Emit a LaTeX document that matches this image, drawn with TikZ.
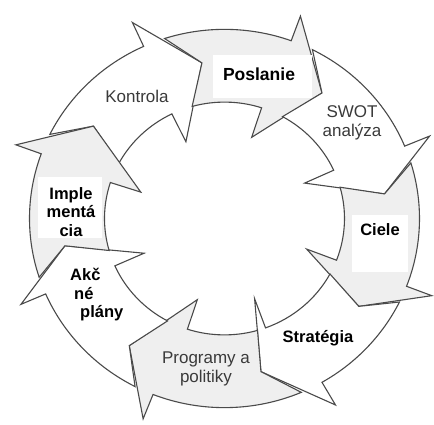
\documentclass[tikz,border=0pt]{standalone}
\usepackage{fontspec}
\setmainfont{Liberation Sans}
\usetikzlibrary{positioning}
\definecolor{ink}{HTML}{4A4A4A}
\definecolor{softgray}{HTML}{EFEFEF}
\definecolor{labelgray}{HTML}{3A3A3A}

\begin{document}
\begin{tikzpicture}[x=1pt,y=0.97pt,
  petal/.style={draw=ink,line width=1.1pt,line join=miter},
  plain/.style={font=\fontsize{17}{18.5}\selectfont,text=labelgray,
    align=center,inner sep=0pt},
  strong/.style={font=\bfseries\fontsize{16.5}{18.5}\selectfont,text=black,
    align=center,inner sep=0pt}
]
\useasboundingbox (-224.5pt,-206.5pt) rectangle (209.5pt,218.5pt);
% eight ring arrows, clockwise: outer barb / inner barb / tip, then the previous head
\foreach \bo/\bi/\t/\pbo/\pbi/\pt/\fc in {
  114.5/116/98/160/162/144/white,
  70/72/53/114.5/116/98/softgray,
  22.5/24.5/9/70/72/53/white,
  -21/-21/-34/22.5/24.5/9/softgray,
  -60/-70/-77/-21/-21/-34/white,
  -111.5/-108/-126/-60/-70/-77/softgray,
  -156.5/-156/-170/-111.5/-108/-126/white,
  -200/-198/-216/-156.5/-156/-170/softgray}{
  \pgfmathsetmacro\po{\pbo+0.4*(\pt-\pbo)}
  \pgfmathsetmacro\pin{\pbi+0.575*(\pt-\pbi)}
  \filldraw[petal,fill=\fc] (\po:195) arc[start angle=\po,end angle=\bo,radius=195]
    -- (\bo:222) -- (\t:162) -- (\bi:88) -- (\bi:120)
    arc[start angle=\bi,end angle=\pin,radius=120]
    -- (\pt:162) -- cycle;
}
% white patches behind the bold labels
\fill[white] (-11.5pt,163.5pt) rectangle (87.5pt,120.5pt);
\fill[white] (127.5pt,3.5pt) rectangle (183.5pt,-53.5pt);
\fill[white] (-186pt,41.5pt) rectangle (-122.5pt,-19.5pt);
\node[plain] (kontrola) at (-87.5pt,122.5pt) {Kontrola};
\node[strong,font=\bfseries\fontsize{17.5}{18.5}\selectfont] (poslanie) at (34.5pt,144.5pt) {Poslanie};
\node[plain] (swot) at (127.5pt,95.5pt) {SWOT\\analýza};
\node[strong] (ciele) at (155.5pt,-11.5pt) {Ciele};
\node[strong] (strategia) at (93.5pt,-119.5pt) {Stratégia};
\node[plain] (programy) at (-18.5pt,-150.5pt) {Programy a\\politiky};
\node[strong] (akcne) [anchor=west,align=left] at (-154.5pt,-76.5pt)
  {Akč\\\hspace*{4pt}né\\\hspace*{10pt}plány};
\node[strong] (impl) at (-153.5pt,6.5pt) {Imple\\mentá\\cia};
\end{tikzpicture}
\end{document}
